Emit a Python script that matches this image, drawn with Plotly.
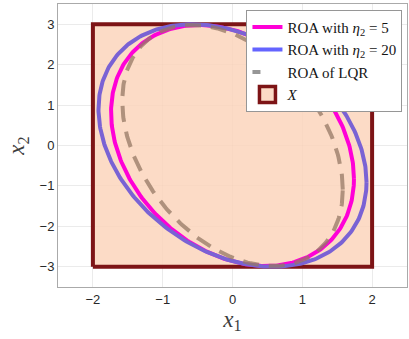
import numpy as np
import plotly.graph_objects as go

# Region X (box constraint)
x_box_x1 = [-2, 2, 2, -2, -2]
x_box_x2 = [-3, -3, 3, 3, -3]

# Ellipse readings (from picture): max |x1|, max |x2|, x1 at topmost point
roa_names = ["ROA with <i>η</i><sub>2</sub> = 5", "ROA with <i>η</i><sub>2</sub> = 20", "ROA of LQR"]
roa_x1_max = [1.74, 1.92, 1.58]
roa_x2_max = [2.98, 3.0, 2.98]
roa_x1_at_top = [-0.48, -0.58, -0.58]

def ellipse(x1m, x2m, x1top, n=400):
    s11, s22 = x1m**2, x2m**2
    s12 = x1top * x2m
    S = np.array([[s11, s12], [s12, s22]])
    L = np.linalg.cholesky(S)
    t = np.linspace(0, 2*np.pi, n)
    pts = L @ np.vstack([np.cos(t), np.sin(t)])
    return pts[0], pts[1]

plot_colors = ["rgb(255,0,215)", "rgb(122,98,212)", "rgba(150,120,100,0.75)"]
legend_colors = ["rgb(255,0,215)", "rgb(100,100,255)", "rgb(150,150,150)"]
dashes = ["solid", "solid", "dash"]

fig = go.Figure()
fig.add_trace(go.Scatter(x=x_box_x1, y=x_box_x2, mode="lines", fill="toself",
                         fillcolor="rgba(251,213,188,0.85)", line=dict(color="rgb(125,20,22)", width=4),
                         showlegend=False, hoverinfo="skip"))
fig.add_trace(go.Scatter(x=[None], y=[None], mode="markers", name="<i>X</i>", legendrank=4,
                         marker=dict(symbol="square", size=17, color="rgb(252,219,198)",
                                     line=dict(color="rgb(125,20,22)", width=3.5))))
for i in range(3):
    ex, ey = ellipse(roa_x1_max[i], roa_x2_max[i], roa_x1_at_top[i])
    fig.add_trace(go.Scatter(x=ex, y=ey, mode="lines", showlegend=False,
                             line=dict(color=plot_colors[i], width=4,
                                       dash="16px,10px" if dashes[i] == "dash" else "solid")))
    fig.add_trace(go.Scatter(x=[None], y=[None], mode="lines", name=roa_names[i],
                             legendrank=i + 1,
                             line=dict(color=legend_colors[i], width=4,
                                       dash="8px,100px" if dashes[i] == "dash" else "solid")))

axis_common = dict(showgrid=True, gridcolor="rgba(0,0,0,0.08)", gridwidth=1,
                   zeroline=False, showline=True, linecolor="rgb(170,170,170)", linewidth=1,
                   mirror=True, ticks="outside", ticklen=0,
                   tickfont=dict(family="Liberation Sans", size=13, color="rgb(40,40,40)"))

fig.update_layout(
    width=409, height=339,
    margin=dict(l=58, r=2, t=4, b=52),
    paper_bgcolor="white", plot_bgcolor="white",
    xaxis=dict(range=[-2.5, 2.5], tickvals=[-2, -1, 0, 1, 2],
               title=dict(text="<i>x</i><sub>1</sub>", standoff=4,
                          font=dict(family="Liberation Serif", size=23, color="rgb(60,60,60)")),
               **axis_common),
    yaxis=dict(range=[-3.5, 3.5], tickvals=[-3, -2, -1, 0, 1, 2, 3],
               title=dict(text="<i>x</i><sub>2</sub>", standoff=8,
                          font=dict(family="Liberation Serif", size=23, color="rgb(60,60,60)")),
               **axis_common),
    legend=dict(x=0.54, y=0.98, xanchor="left", yanchor="top",
                bgcolor="white", bordercolor="rgb(150,150,150)", borderwidth=1,
                font=dict(family="Liberation Serif", size=15, color="rgb(20,20,20)"),
                tracegroupgap=0, itemwidth=30),
    showlegend=True,
)

fig.write_html("out.html")
